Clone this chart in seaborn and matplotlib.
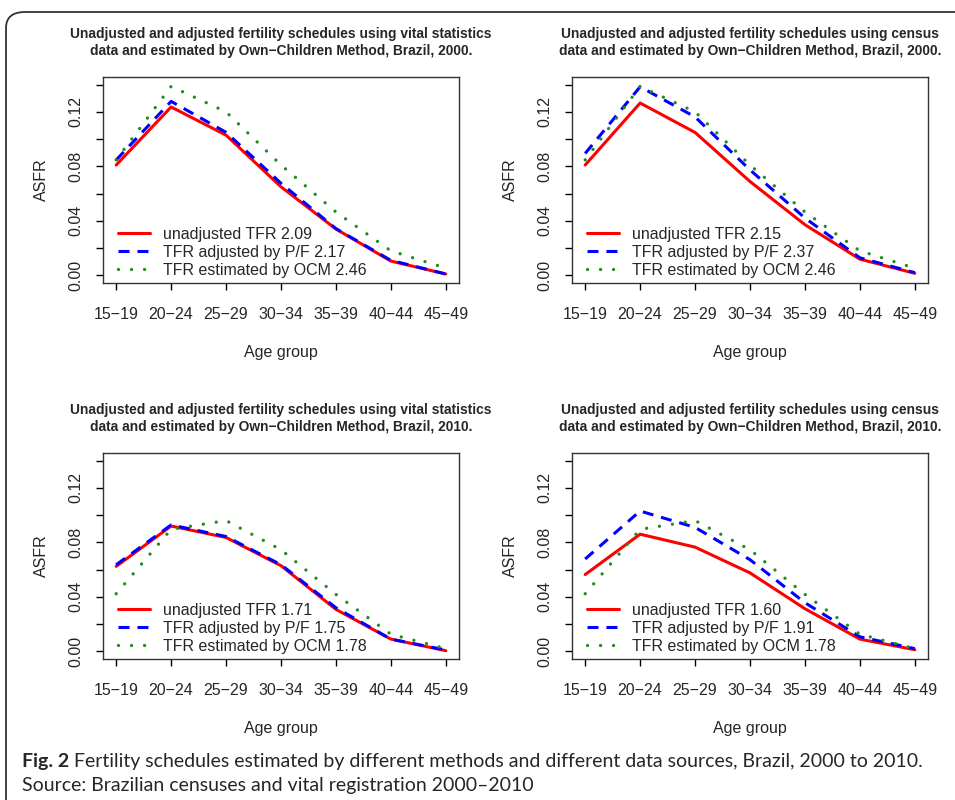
import numpy as np
import pandas as pd
import seaborn as sns
import matplotlib.pyplot as plt
from matplotlib.patches import FancyBboxPatch

sns.set_style('white')
plt.rcParams['font.family'] = ['Liberation Sans', 'DejaVu Sans']

# Grupos de edad (con signo menos como en R)
age_groups = ['15\u221219', '20\u221224', '25\u221229', '30\u221234', '35\u221239', '40\u221244', '45\u221249']

# Tasas especificas de fecundidad
vs2000_unadj = [0.081, 0.1236, 0.1029, 0.065, 0.034, 0.0105, 0.001]
vs2000_pf = [0.0847, 0.1277, 0.105, 0.0676, 0.0343, 0.011, 0.001]
cen2000_unadj = [0.081, 0.1265, 0.1049, 0.0689, 0.0372, 0.0119, 0.0015]
cen2000_pf = [0.0895, 0.1384, 0.1163, 0.0774, 0.0421, 0.0129, 0.002]
ocm2000 = [0.0848, 0.1387, 0.120, 0.081, 0.0465, 0.018, 0.0053]

vs2010_unadj = [0.0624, 0.092, 0.0836, 0.0629, 0.0308, 0.009, 0.0005]
vs2010_pf = [0.0636, 0.0928, 0.0843, 0.0636, 0.032, 0.009, 0.001]
cen2010_unadj = [0.0564, 0.086, 0.0765, 0.0576, 0.0313, 0.009, 0.0012]
cen2010_pf = [0.0678, 0.103, 0.091, 0.0673, 0.0357, 0.0107, 0.002]
ocm2010 = [0.0423, 0.0896, 0.096, 0.0746, 0.0418, 0.0126, 0.002]

tfr_labels = {
    'vs2000': ['2.09', '2.17', '2.46'],
    'cen2000': ['2.15', '2.37', '2.46'],
    'vs2010': ['1.71', '1.75', '1.78'],
    'cen2010': ['1.60', '1.91', '1.78'],
}

titles = [
    'Unadjusted and adjusted fertility schedules using vital statistics\ndata and estimated by Own\u2212Children Method, Brazil, 2000.',
    'Unadjusted and adjusted fertility schedules using census\ndata and estimated by Own\u2212Children Method, Brazil, 2000.',
    'Unadjusted and adjusted fertility schedules using vital statistics\ndata and estimated by Own\u2212Children Method, Brazil, 2010.',
    'Unadjusted and adjusted fertility schedules using census\ndata and estimated by Own\u2212Children Method, Brazil, 2010.',
]

panels = [
    ('vs2000', vs2000_unadj, vs2000_pf, ocm2000),
    ('cen2000', cen2000_unadj, cen2000_pf, ocm2000),
    ('vs2010', vs2010_unadj, vs2010_pf, ocm2010),
    ('cen2010', cen2010_unadj, cen2010_pf, ocm2010),
]

W, H = 955, 800
fig = plt.figure(figsize=(9.55, 8), dpi=100)

# marco redondeado de la figura (estilo revista)
frame = FancyBboxPatch((6 / W, -0.05), 1.2, 1 - 12 / H + 0.05,
                       boxstyle='round,pad=0,rounding_size=0.02',
                       transform=fig.transFigure, fill=False,
                       edgecolor='#333333', lw=1.3, clip_on=False)
fig.patches.append(frame)

# posiciones en pixeles (izq, arriba)
boxes = [(103, 77), (572, 77), (103, 453), (572, 453)]
bw, bh = 356, 206

for i, (key, unadj, pf, ocm) in enumerate(panels):
    x0, y0 = boxes[i]
    ax = fig.add_axes([x0 / W, 1 - (y0 + bh) / H, bw / W, bh / H])
    lab = tfr_labels[key]
    sns.lineplot(x=age_groups, y=unadj, ax=ax, color='#FF0000', lw=2.2,
                 label=f'unadjusted TFR {lab[0]}')
    sns.lineplot(x=age_groups, y=pf, ax=ax, color='#0000FF', lw=2.2,
                 linestyle=(0, (3.6, 2.6)), label=f'TFR adjusted by P/F {lab[1]}')
    sns.lineplot(x=age_groups, y=ocm, ax=ax, color='#228B22', lw=2.4,
                 linestyle=(0, (0.01, 3.9)), dash_capstyle='round',
                 label=f'TFR estimated by OCM {lab[2]}')

    ax.set_xlim(-0.24, 6.24)
    ax.set_ylim(-0.0056, 0.1456)
    ax.set_yticks(np.arange(0, 0.141, 0.02))
    ax.set_yticklabels(['0.00', '', '0.04', '', '0.08', '', '0.12', ''],
                       rotation=90, va='center')
    ax.tick_params(axis='both', direction='out', length=5, width=1,
                   color='black', labelsize=11.5, bottom=True, left=True)
    ax.tick_params(axis='y', pad=9)
    ax.tick_params(axis='x', pad=12)
    for sp in ax.spines.values():
        sp.set_visible(True)
        sp.set_color('#333333')
        sp.set_linewidth(1.0)

    ax.set_xlabel('Age group', fontsize=11.5, labelpad=17)
    ax.set_ylabel('ASFR', fontsize=11.5, labelpad=14)
    ax.set_title(titles[i], fontsize=9.9, fontweight='bold', pad=16,
                 linespacing=1.25)

    leg = ax.legend(loc='lower left', bbox_to_anchor=(0.015, -0.02),
                    frameon=False, fontsize=11.5, handlelength=2.0,
                    handletextpad=0.8, labelspacing=0.18, borderaxespad=0.2)

# pie de figura
renderer = fig.canvas.get_renderer()
t1 = fig.text(22 / W, 1 - 761 / H, 'Fig. 2', fontsize=14, fontweight='bold',
              va='center', family=['Lato', 'DejaVu Sans'])
bb = t1.get_window_extent(renderer)
fig.text(bb.x1 / W + 5 / W, 1 - 761 / H,
         'Fertility schedules estimated by different methods and different data sources, Brazil, 2000 to 2010.',
         fontsize=14, va='center', family=['Lato', 'DejaVu Sans'])
fig.text(22 / W, 1 - 785 / H, 'Source: Brazilian censuses and vital registration 2000\u20132010',
         fontsize=14, va='center', family=['Lato', 'DejaVu Sans'])

fig.savefig('out.png', dpi=100)
